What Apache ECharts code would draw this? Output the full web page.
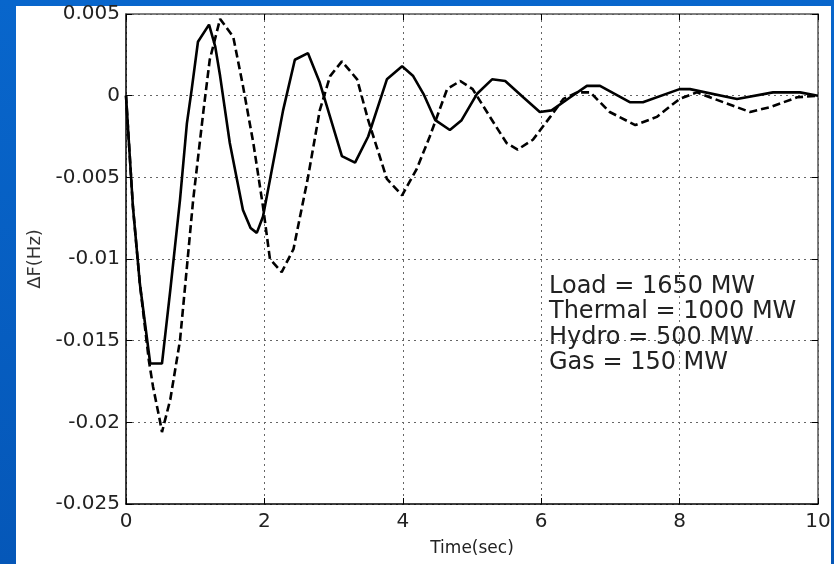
<!DOCTYPE html>
<html>
<head>
<meta charset="utf-8">
<script src="https://cdn.jsdelivr.net/npm/echarts@6/dist/echarts.min.js"></script>
<style>
  html, body { margin: 0; padding: 0; }
  body { width: 834px; height: 564px; overflow: hidden; position: relative;
         background: linear-gradient(#0866cc, #0557b8); }
  #panel { position: absolute; left: 16px; top: 6px; width: 815px; height: 558px; background: #fff; }
  #main { position: absolute; left: 0; top: 0; width: 834px; height: 564px; }
</style>
</head>
<body>
<div id="panel"></div>
<div id="main"></div>
<script>
// solid curve
var solidTime = [0, 0.1, 0.2, 0.35, 0.52, 0.64, 0.78, 0.88, 0.95, 1.04, 1.2, 1.29, 1.36, 1.5, 1.69, 1.8, 1.89, 1.98,
  2.27, 2.44, 2.63, 2.8, 3.12, 3.31, 3.5, 3.77, 3.99, 4.15, 4.3, 4.47, 4.68, 4.85, 5.07, 5.29, 5.48, 5.74, 5.98,
  6.15, 6.42, 6.66, 6.85, 7.28, 7.47, 8.0, 8.15, 8.83, 9.35, 9.74, 10];
var solidDF = [0, -0.0068, -0.0115, -0.0164, -0.0164, -0.0119, -0.0064, -0.0017, 0.0004, 0.0033, 0.00435, 0.003, 0.0012,
  -0.0029, -0.007, -0.0081, -0.0084, -0.0074, -0.0009, 0.0022, 0.0026, 0.0008, -0.0037, -0.0041, -0.0025, 0.001,
  0.0018, 0.0012, 0.0001, -0.0015, -0.0021, -0.0015, 0.0001, 0.001, 0.0009, -0.0001, -0.001, -0.0009, -0.0001,
  0.0006, 0.0006, -0.0004, -0.0004, 0.0004, 0.0004, -0.0002, 0.0002, 0.0002, 0];

// dashed curve
var dashedTime = [0, 0.1, 0.2, 0.33, 0.39, 0.49, 0.52, 0.64, 0.78, 0.88, 0.97, 1.12, 1.21, 1.36, 1.55, 1.69, 1.84, 1.98,
  2.08, 2.25, 2.42, 2.63, 2.8, 2.95, 3.12, 3.34, 3.5, 3.77, 3.99, 4.2, 4.39, 4.64, 4.83, 5.01, 5.26, 5.5, 5.66,
  5.88, 6.13, 6.32, 6.52, 6.71, 6.99, 7.36, 7.67, 8.0, 8.25, 8.63, 9.02, 9.31, 9.7, 10];
var dashedDF = [0, -0.0068, -0.0115, -0.0162, -0.0178, -0.0199, -0.0206, -0.0186, -0.015, -0.0105, -0.0064, -0.0009,
  0.0022, 0.0047, 0.0036, 0.0006, -0.0029, -0.0068, -0.01, -0.0108, -0.0094, -0.005, -0.0009, 0.0012, 0.0021, 0.001,
  -0.0015, -0.0051, -0.0061, -0.0045, -0.0025, 0.0004, 0.0009, 0.0004, -0.0013, -0.0029, -0.0033, -0.0027, -0.0013,
  -0.0002, 0.0002, 0.0002, -0.001, -0.0018, -0.0013, -0.0002, 0.0002, -0.0004, -0.001, -0.0007, -0.0001, 0];

var noteLines = ["Load = 1650 MW", "Thermal = 1000 MW", "Hydro = 500 MW", "Gas = 150 MW"];

function pairs(xs, ys) {
  var out = [];
  for (var i = 0; i < xs.length; i++) out.push([xs[i], ys[i]]);
  return out;
}

var font = "DejaVu Sans";
var gridDots = { show: true, lineStyle: { color: "#666", type: [2, 4], width: 1 } };

var myChart = echarts.init(document.getElementById("main"));
myChart.setOption({
  animation: false,
  grid: { left: 126, top: 14, width: 692, height: 490 },
  xAxis: [
    {
      type: "value", min: 0, max: 10, interval: 2,
      name: "Time(sec)", nameLocation: "middle", nameGap: 36,
      nameTextStyle: { fontFamily: font, fontSize: 17, color: "#222" },
      axisLine: { show: true, onZero: false, lineStyle: { color: "#000", width: 1.5 } },
      axisTick: { show: true, inside: true, length: 6, lineStyle: { color: "#000" } },
      axisLabel: { fontFamily: font, fontSize: 20, color: "#222", margin: 8 },
      splitLine: gridDots
    },
    {
      type: "value", min: 0, max: 10, interval: 2, position: "top",
      axisLine: { show: true, onZero: false, lineStyle: { color: "#555", width: 1.5 } },
      axisTick: { show: true, inside: true, length: 6, lineStyle: { color: "#000" } },
      axisLabel: { show: false },
      splitLine: { show: false }
    }
  ],
  yAxis: [
    {
      type: "value", min: -0.025, max: 0.005, interval: 0.005,
      name: "ΔF(Hz)", nameLocation: "middle", nameGap: 81,
      nameTextStyle: { fontFamily: font, fontSize: 18, color: "#333" },
      axisLine: { show: true, onZero: false, lineStyle: { color: "#000", width: 1.5 } },
      axisTick: { show: true, inside: true, length: 6, lineStyle: { color: "#000" } },
      axisLabel: { fontFamily: font, fontSize: 20, color: "#222", margin: 6 },
      splitLine: gridDots
    },
    {
      type: "value", min: -0.025, max: 0.005, interval: 0.005, position: "right",
      axisLine: { show: true, onZero: false, lineStyle: { color: "#555", width: 1.5 } },
      axisTick: { show: true, inside: true, length: 6, lineStyle: { color: "#000" } },
      axisLabel: { show: false },
      splitLine: { show: false }
    }
  ],
  series: [
    {
      name: "solid", type: "line", showSymbol: false,
      data: pairs(solidTime, solidDF),
      lineStyle: { color: "#000", width: 2.6 }
    },
    {
      name: "dashed", type: "line", showSymbol: false,
      data: pairs(dashedTime, dashedDF),
      lineStyle: { color: "#000", width: 2.6, type: [8, 4] }
    }
  ],
  graphic: [
    {
      type: "text", left: 549, top: 274,
      style: { text: noteLines.join("\n"), font: "24px " + font, fill: "#222", lineHeight: 25.5 }
    }
  ]
});
</script>
</body>
</html>
